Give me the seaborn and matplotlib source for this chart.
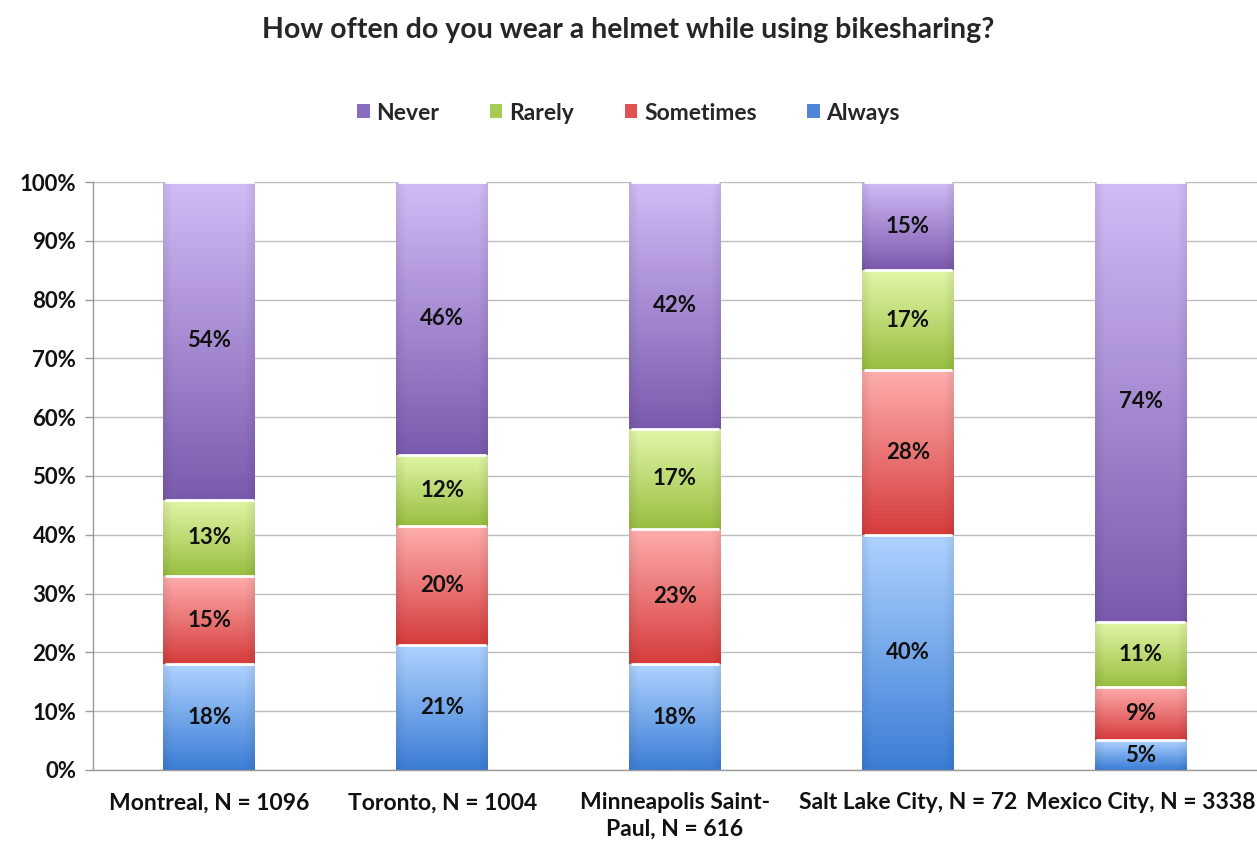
import numpy as np
import pandas as pd
import matplotlib
matplotlib.use("Agg")
import matplotlib.pyplot as plt
import seaborn as sns
from matplotlib.colors import to_rgb
from matplotlib.patches import Patch

# ---- data ----
cities = ["Montreal, N = 1096", "Toronto, N = 1004", "Minneapolis Saint-\nPaul, N = 616",
          "Salt Lake City, N = 72", "Mexico City, N = 3338"]
responses = ["Always", "Sometimes", "Rarely", "Never"]
always = [18, 21, 18, 40, 5]
sometimes = [15, 20, 23, 28, 9]
rarely = [13, 12, 17, 17, 11]
never = [54, 46, 42, 15, 74]
ytick_vals = [0, 10, 20, 30, 40, 50, 60, 70, 80, 90, 100]
title = "How often do you wear a helmet while using bikesharing?"

# colours (top, bottom) of gradient and legend colour
grad = {
    "Always": ("#AFD3FF", "#3B7DD6"),
    "Sometimes": ("#FFAEAE", "#D63C3C"),
    "Rarely": ("#E2F7A8", "#98BE40"),
    "Never": ("#D2BCF6", "#7A5AAE"),
}
legend_col = {"Always": "#4F86D8", "Sometimes": "#E05252", "Rarely": "#A6CC55", "Never": "#8A6CC0"}

sns.set_theme(style="white")
plt.rcParams['font.family'] = ['Lato', 'DejaVu Sans']

series = {"Always": always, "Sometimes": sometimes, "Rarely": rarely, "Never": never}
totals = np.array(always) + np.array(sometimes) + np.array(rarely) + np.array(never)

fig = plt.figure(figsize=(12.57, 8.43), dpi=100)
ax = fig.add_axes([0.074, 0.0866, 0.926, 0.6975])

bottom = np.zeros(len(cities))
for resp in responses:
    vals = np.array(series[resp], dtype=float)
    share = vals / totals * 100
    df = pd.DataFrame({"city": cities, "share": share})
    n_before = len(ax.patches)
    sns.barplot(data=df, x="city", y="share", order=cities, bottom=bottom,
                color=legend_col[resp], width=0.395, ax=ax, zorder=3, linewidth=0)
    new = ax.patches[n_before:]
    top_c = np.array(to_rgb(grad[resp][0]))
    bot_c = np.array(to_rgb(grad[resp][1]))
    ny, nx = 100, 40
    t = np.linspace(0, 1, ny)[:, None, None]
    img = bot_c * (1 - t) + top_c * t
    img = np.repeat(img, nx, axis=1)
    xx = np.linspace(-1, 1, nx)
    shade = 1 - 0.07 * np.clip((np.abs(xx) - 0.8) / 0.2, 0, 1)
    img = img * shade[None, :, None]
    for p, v, lab in zip(new, share, vals):
        x0, y0 = p.get_x(), p.get_y()
        w, h = p.get_width(), p.get_height()
        p.set_facecolor("none")
        ax.imshow(img, extent=[x0, x0 + w, y0, y0 + h], origin="lower",
                  aspect="auto", zorder=2.5, interpolation="bilinear")
        ax.plot([x0 + w * 0.02, x0 + w * 0.98], [y0 + h, y0 + h], color="white",
                lw=2.0, zorder=3.5, solid_capstyle="butt")
        ax.text(x0 + w / 2, y0 + h / 2, f"{int(lab)}%", ha="center", va="center",
                fontsize=16, fontweight="bold", color="#111111", zorder=4)
    bottom = bottom + share

ax.set_xlim(-0.5, len(cities) - 0.5)
ax.set_ylim(0, 100)
ax.set_yticks(ytick_vals)
ax.set_yticklabels([f"{v}%" for v in ytick_vals], fontsize=16, fontweight="bold", color="#111111")
ax.set_xticks(range(len(cities)))
ax.set_xticklabels(cities, fontsize=16.5, fontweight="bold", color="#111111", linespacing=1.35)
ax.set_xticks(np.arange(-0.5, len(cities)), minor=True)
ax.tick_params(axis="x", which="major", length=0, pad=16)
ax.tick_params(axis="x", which="minor", length=6, color="#9A9A9A", width=1, direction="out")
ax.tick_params(axis="y", length=6, color="#9A9A9A", width=1, direction="out", pad=6, left=True)
ax.set_xlabel("")
ax.set_ylabel("")
ax.yaxis.grid(True, color="#BDBDBD", lw=1, zorder=0)
ax.set_axisbelow(True)
for s in ["top", "right"]:
    ax.spines[s].set_visible(False)
for s in ["left", "bottom"]:
    ax.spines[s].set_color("#9A9A9A")
    ax.spines[s].set_linewidth(1)

handles = [Patch(facecolor=legend_col[r], edgecolor="none") for r in ["Never", "Rarely", "Sometimes", "Always"]]
fig.legend(handles, ["Never", "Rarely", "Sometimes", "Always"], loc="center",
           bbox_to_anchor=(0.5, 1 - 113 / 843), ncol=4, frameon=False,
           prop={"size": 16.5, "weight": "bold"},
           handlelength=0.55, handleheight=0.55, handletextpad=0.3, columnspacing=2.2)
fig.text(0.5, 1 - 30 / 843, title, ha="center", va="center", fontsize=20.5, fontweight="bold")

fig.savefig("out.png", dpi=100)
